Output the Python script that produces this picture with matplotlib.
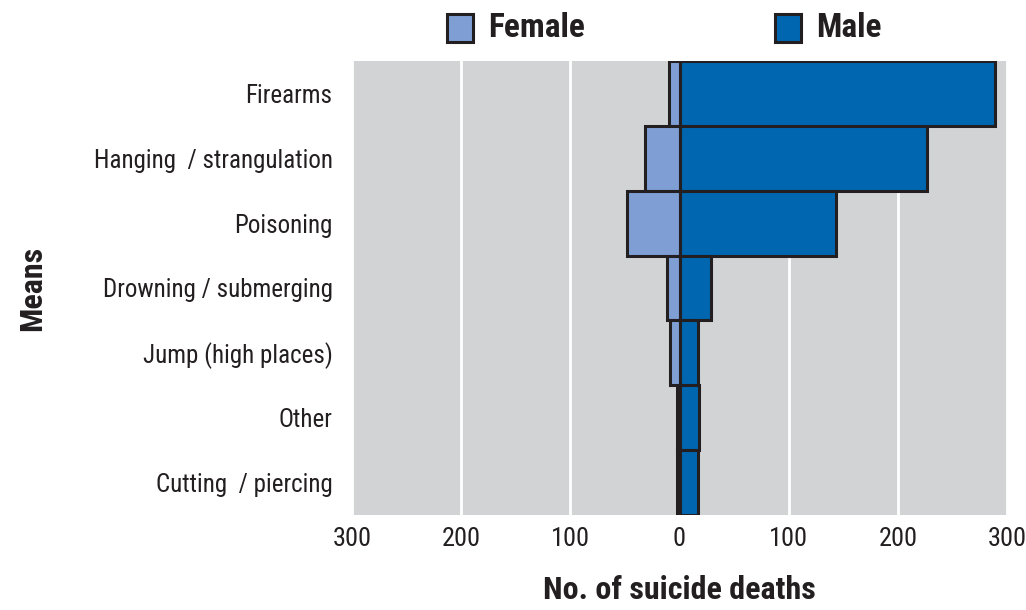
import numpy as np
import matplotlib
matplotlib.use("Agg")
import matplotlib.pyplot as plt
from matplotlib.patches import Rectangle
from matplotlib import font_manager

# data (top to bottom)
means = ["Firearms", "Hanging  / strangulation", "Poisoning", "Drowning / submerging",
         "Jump (high places)", "Other", "Cutting  / piercing"]
female = [10, 32, 48, 11, 9, 2, 2]
male = [289, 227, 143, 29, 17, 18, 17]
xticks = [-300, -200, -100, 0, 100, 200, 300]
xticklabels = ["300", "200", "100", "0", "100", "200", "300"]

FEMALE_C = "#7f9fd4"
MALE_C = "#0066b0"
EDGE_C = "#231f20"
BG_C = "#d1d3d4"

# narrow-ish font if the system has one
names = set(f.name for f in font_manager.fontManager.ttflist)
for cand in ["Liberation Sans Narrow", "Roboto Condensed", "Open Sans Condensed"]:
    if cand in names:
        plt.rcParams['font.family'] = [cand, 'DejaVu Sans']
        break
else:
    plt.rcParams['font.family'] = ['DejaVu Sans']

fig = plt.figure(figsize=(10.26, 6.10), dpi=100)
ax = fig.add_axes([352/1026, 1-515/610, 655/1026, 454/610])
ax.set_facecolor(BG_C)

y = np.arange(len(means))
ax.barh(y, -np.array(female), height=1.0, color=FEMALE_C, edgecolor=EDGE_C, linewidth=2.2, zorder=3)
ax.barh(y, male, height=1.0, color=MALE_C, edgecolor=EDGE_C, linewidth=2.2, zorder=4)

ax.set_xlim(-300, 300)
ax.set_ylim(len(means) - 0.5, -0.5)
ax.set_xticks(xticks)
ax.set_xticklabels(xticklabels, fontsize=19, color="#231f20")
ax.set_yticks(y)
ax.set_yticklabels(means, fontsize=18, color="#231f20")
ax.tick_params(axis="both", length=0)
ax.tick_params(axis="y", pad=14)
ax.tick_params(axis="x", pad=9)
ax.grid(axis="x", color="white", linewidth=2, zorder=1)
ax.set_axisbelow(True)
for s in ax.spines.values():
    s.set_visible(False)

ax.set_xlabel("No. of suicide deaths", fontsize=23, fontweight="bold", color="#231f20", labelpad=17)
ax.set_ylabel("Means", fontsize=23, fontweight="bold", color="#231f20")
ax.yaxis.set_label_coords(-305/655, 0.5)

# legend at top
leg_items = [("Female", FEMALE_C, 447), ("Male", MALE_C, 775)]
for name, col, px in leg_items:
    fig.patches.append(Rectangle((px/1026, 1-42/610), 26/1026, 28/610, transform=fig.transFigure,
                                 facecolor=col, edgecolor=EDGE_C, linewidth=2.2))
    fig.text((px+41)/1026, 1-28/610, name, fontsize=24, fontweight="bold", color="#231f20", va="center")

fig.savefig("out.png", dpi=100)
